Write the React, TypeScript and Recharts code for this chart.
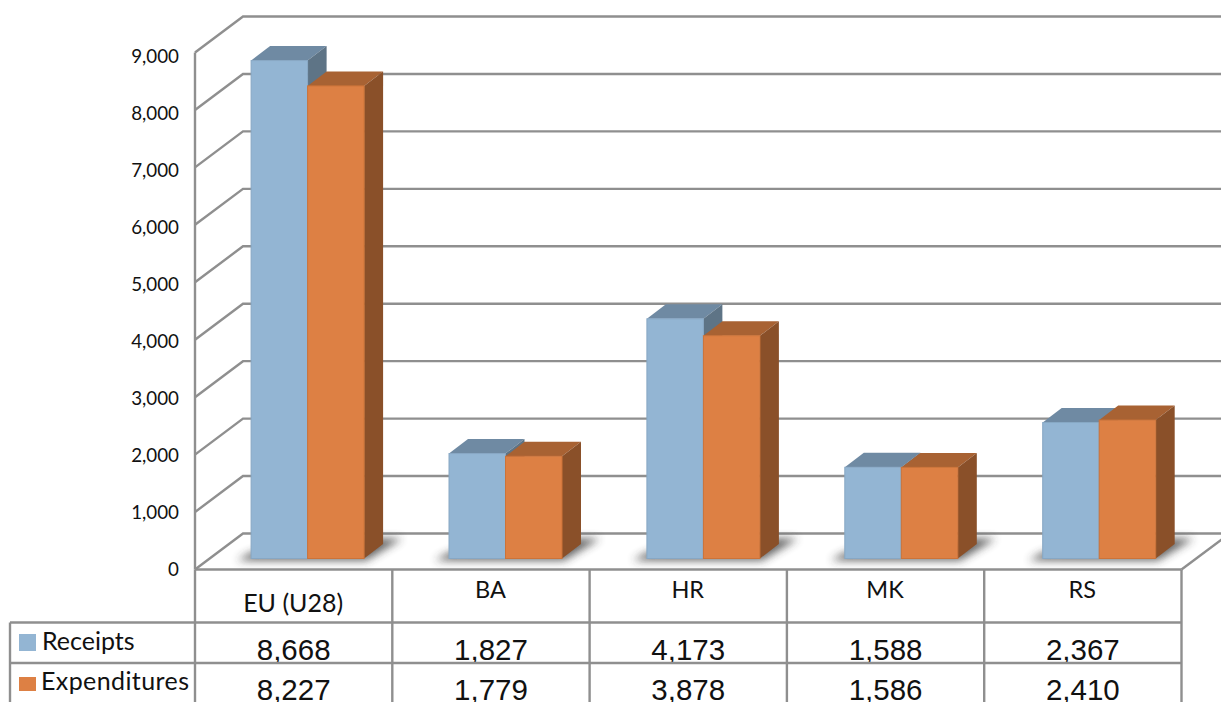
import { BarChart, Bar, CartesianGrid, XAxis, YAxis } from 'recharts';

const categories = ['EU (U28)', 'BA', 'HR', 'MK', 'RS'];
const receipts = [8668, 1827, 4173, 1588, 2367];
const expenditures = [8227, 1779, 3878, 1586, 2410];
const yTicks = [0, 1000, 2000, 3000, 4000, 5000, 6000, 7000, 8000, 9000];

const rows = categories.map((name, i) => ({
  name,
  receipts: receipts[i],
  expenditures: expenditures[i],
}));

const LINE = '#8f8f8f';
const LABEL_FONT = 'Lato, "Noto Sans", sans-serif';
const VALUE_FONT = '"Liberation Sans", Arial, sans-serif';

const CHART_W = 1221;
const CHART_H = 702;
const LEFT = 195;
const RIGHT = 1181.5;
const TOP = 52.5;
const FLOOR = 569.5;

// oblique offset of the back wall, and of the bar depth
const WALL_DX = 48;
const WALL_DY = -36;
const BOX_DX = 19;
const BOX_DY = -14.5;

const blue = { front: '#93b5d3', top: '#6f8aa3', side: '#5e7486', edge: '#87a7c4' };
const orange = { front: '#dd8044', top: '#a86233', side: '#8a5029', edge: '#cc7339' };

// one gridline: up the side wall, then along the back wall
function wallLine({ x1, y1 }: any) {
  return (
    <polyline
      key={`wall-${y1}`}
      points={`${x1},${y1} ${x1 + WALL_DX},${y1 + WALL_DY} ${CHART_W},${y1 + WALL_DY}`}
      fill="none"
      stroke={LINE}
      strokeWidth={2.4}
    />
  );
}

function WallTick({ x, y, payload }: any) {
  // labels sit on a slightly tighter pitch than the wall lines
  const labelY = 55 + (y - TOP) * 0.993;
  return (
    <text
      x={x - 16}
      y={labelY}
      textAnchor="end"
      dominantBaseline="central"
      fontFamily={LABEL_FONT}
      fontSize={18.8}
      fill="#111"
    >
      {payload.value.toLocaleString('en-US')}
    </text>
  );
}

function TableTick({ x, index, payload }: any) {
  const band = (RIGHT - LEFT) / categories.length;
  const cellLeft = LEFT + band * index;
  const cellRight = cellLeft + band;
  const textX = x - 0.5;
  const line = { stroke: LINE, strokeWidth: 2.4 };
  return (
    <g>
      <text
        x={textX}
        y={index === 0 ? 602 : 589}
        textAnchor="middle"
        dominantBaseline="central"
        fontFamily={LABEL_FONT}
        fontSize={index === 0 ? 25 : 23.5}
        fill="#111"
      >
        {payload.value}
      </text>
      <text x={textX + 0.5} y={660} textAnchor="middle" fontFamily={VALUE_FONT} fontSize={29.5} fill="#111">
        {receipts[index].toLocaleString('en-US')}
      </text>
      <text x={textX + 0.5} y={700} textAnchor="middle" fontFamily={VALUE_FONT} fontSize={29.5} fill="#111">
        {expenditures[index].toLocaleString('en-US')}
      </text>
      <line x1={cellLeft} y1={622.5} x2={cellRight} y2={622.5} {...line} />
      <line x1={cellLeft} y1={663} x2={cellRight} y2={663} {...line} />
      <line x1={cellRight} y1={FLOOR} x2={cellRight} y2={CHART_H} {...line} />
      {index === 0 && (
        <g>
          <line x1={cellLeft} y1={FLOOR} x2={cellLeft} y2={CHART_H} {...line} />
          <line x1={10} y1={622.5} x2={cellLeft} y2={622.5} {...line} />
          <line x1={10} y1={663} x2={cellLeft} y2={663} {...line} />
          <line x1={10} y1={622.5} x2={10} y2={CHART_H} {...line} />
          <rect x={19} y={634} width={17} height={17} fill={blue.front} />
          <rect x={19} y={677} width={17} height={14} fill={orange.front} />
          <text x={42} y={650} fontFamily={LABEL_FONT} fontSize={25} fill="#111">
            Receipts
          </text>
          <text x={41} y={690} fontFamily={LABEL_FONT} fontSize={25} letterSpacing={0.4} fill="#111">
            Expenditures
          </text>
        </g>
      )}
      {index === categories.length - 1 && (
        <line x1={cellRight} y1={FLOOR} x2={cellRight + WALL_DX} y2={FLOOR + WALL_DY} {...line} />
      )}
    </g>
  );
}

function Box3D({ x, y, width, height, index, palette, withShadow }: any) {
  // bars stand a little behind the front edge of the floor
  const bx = x + 14.1 + index * 0.6;
  const by = y - 11;
  const bottom = by + height;
  const right = bx + width;
  return (
    <g>
      {withShadow && (
        <polygon
          points={`${bx - 14},${bottom + 2} ${right + width + 2},${bottom + 2} ${right + width + 38},${bottom - 20} ${right + width + 14},${bottom - 20} ${bx},${bottom - 6}`}
          fill="#333"
          opacity={0.75}
          filter="url(#floorShadow)"
        />
      )}
      <polygon
        points={`${bx},${by} ${bx + BOX_DX},${by + BOX_DY} ${right + BOX_DX},${by + BOX_DY} ${right},${by}`}
        fill={palette.top}
      />
      <polygon
        points={`${right},${by} ${right + BOX_DX},${by + BOX_DY} ${right + BOX_DX},${bottom + BOX_DY} ${right},${bottom}`}
        fill={palette.side}
      />
      <rect x={bx} y={by} width={width} height={height} fill={palette.front} stroke={palette.edge} strokeWidth={1} />
    </g>
  );
}

export default function App() {
  return (
    <div style={{ position: 'absolute', left: 0, top: 0, width: CHART_W, height: CHART_H, overflow: 'hidden', background: '#fff' }}>
      <BarChart
        width={CHART_W}
        height={CHART_H}
        data={rows}
        barSize={56.5}
        barGap={0}
        margin={{ top: TOP, right: CHART_W - RIGHT, bottom: 0, left: LEFT - 60 }}
      >
        <defs>
          <filter id="floorShadow" x="-30%" y="-100%" width="160%" height="300%">
            <feGaussianBlur stdDeviation="4" />
          </filter>
        </defs>
        <CartesianGrid vertical={false} horizontal={wallLine} />
        <YAxis
          width={60}
          domain={[0, 9000]}
          ticks={yTicks}
          interval={0}
          tickLine={false}
          tickSize={0}
          tickMargin={0}
          axisLine={{ stroke: LINE, strokeWidth: 2.4 }}
          tick={<WallTick />}
        />
        <XAxis
          dataKey="name"
          height={CHART_H - FLOOR}
          interval={0}
          tickLine={false}
          tickSize={0}
          tickMargin={0}
          axisLine={{ stroke: LINE, strokeWidth: 2.4 }}
          tick={<TableTick />}
        />
        <Bar
          dataKey="receipts"
          name="Receipts"
          fill={blue.front}
          isAnimationActive={false}
          shape={(p: any) => <Box3D {...p} palette={blue} withShadow />}
        />
        <Bar
          dataKey="expenditures"
          name="Expenditures"
          fill={orange.front}
          isAnimationActive={false}
          shape={(p: any) => <Box3D {...p} palette={orange} />}
        />
      </BarChart>
    </div>
  );
}
